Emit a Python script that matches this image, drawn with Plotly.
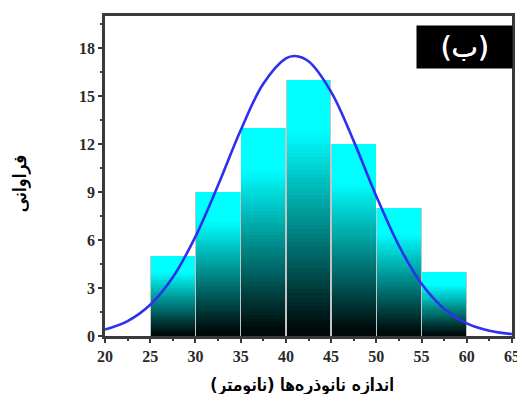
import plotly.graph_objects as go

# Histogram bins (nm) and counts
bin_left = [25, 30, 35, 40, 45, 50, 55]
counts = [5, 9, 13, 16, 12, 8, 4]
bin_width = 5

# Fitted curve
curve_x = [20, 22.5, 25, 27.5, 30, 32.5, 35, 37.5, 40, 41, 42.5, 45, 47.5, 50, 52.5, 55, 57.5, 60, 62.5, 65]
curve_y = [0.40, 0.93, 1.95, 3.67, 6.21, 9.42, 12.86, 15.76, 17.35, 17.5, 17.17, 15.26, 12.18, 8.74, 5.64, 3.26, 1.70, 0.79, 0.33, 0.12]

x_ticks = [20, 25, 30, 35, 40, 45, 50, 55, 60, 65]
y_ticks = [0, 3, 6, 9, 12, 15, 18]

x_title = "اندازه نانوذره‌ها (نانومتر)"
y_title = "فراوانی"
panel_label = "(ب)"

centers = [b + bin_width / 2 for b in bin_left]

fig = go.Figure()

# light gray separators under the bars
fig.add_trace(go.Bar(
    x=centers, y=counts, width=[bin_width] * len(centers),
    marker=dict(color="#c4c4c4", line=dict(width=0)),
    showlegend=False, hoverinfo="skip",
))

N = 60
for k in range(N):
    f = (k + 0.5) / N
    g = min(1.0, max(0.04, f / 0.8))
    c = int(round(255 * g))
    col = f"rgb(0,{c},{c})"
    fig.add_trace(go.Bar(
        x=centers,
        y=[h * (1 - k / N) for h in counts],
        base=[h * k / N for h in counts],
        width=[bin_width * 0.97] * len(centers),
        marker=dict(color=col, line=dict(width=0)),
        showlegend=False,
        hoverinfo="skip",
    ))

fig.add_trace(go.Scatter(
    x=curve_x, y=curve_y, mode="lines",
    line=dict(color="#2f2ff0", width=2.6, shape="spline", smoothing=1.0),
    showlegend=False,
))

tickfont = dict(family="Liberation Serif", size=16, color="#2a2a2a", weight="bold")
title_font = dict(family="DejaVu Sans", size=18, color="black",
                  shadow="0.8px 0 0 black")

fig.update_layout(
    width=517, height=386,
    margin=dict(l=97, r=8, t=5, b=58),
    paper_bgcolor="white", plot_bgcolor="white",
    barmode="overlay",
    bargap=0,
    xaxis=dict(
        range=[20, 65], tickvals=x_ticks, ticktext=[str(v) for v in x_ticks],
        showgrid=False, zeroline=False,
        showline=True, linecolor="#3a3a3a", linewidth=2.5, mirror=True,
        ticks="outside", ticklen=4, tickwidth=1.5, tickcolor="#3a3a3a",
        minor=dict(dtick=2.5, ticks="outside", ticklen=2, tickcolor="#3a3a3a", tickwidth=1.5),
        tickfont=tickfont,
    ),
    yaxis=dict(
        range=[0, 20], tickvals=y_ticks, ticktext=[str(v) for v in y_ticks],
        showgrid=False, zeroline=False,
        showline=True, linecolor="#3a3a3a", linewidth=2.5, mirror=True,
        ticks="outside", ticklen=4, tickwidth=1.5, tickcolor="#3a3a3a",
        minor=dict(dtick=1.5, ticks="outside", ticklen=2, tickcolor="#3a3a3a", tickwidth=1.5),
        tickfont=tickfont,
    ),
    annotations=[
        dict(text=x_title, xref="paper", yref="paper", x=0.485, y=-0.152,
             xanchor="center", yanchor="middle", showarrow=False,
             font=title_font),
        dict(text=y_title, xref="paper", yref="paper", x=-0.21, y=0.475,
             xanchor="center", yanchor="middle", showarrow=False, textangle=-90,
             font=title_font),
        dict(text=panel_label, xref="paper", yref="paper", x=1.0025, y=0.972,
             xanchor="right", yanchor="top", showarrow=False,
             bgcolor="black", width=93, height=40,
             font=dict(family="DejaVu Sans", size=28, color="white",
                       shadow="0.5px 0 0 white")),
    ],
)

fig.write_html("out.html")
